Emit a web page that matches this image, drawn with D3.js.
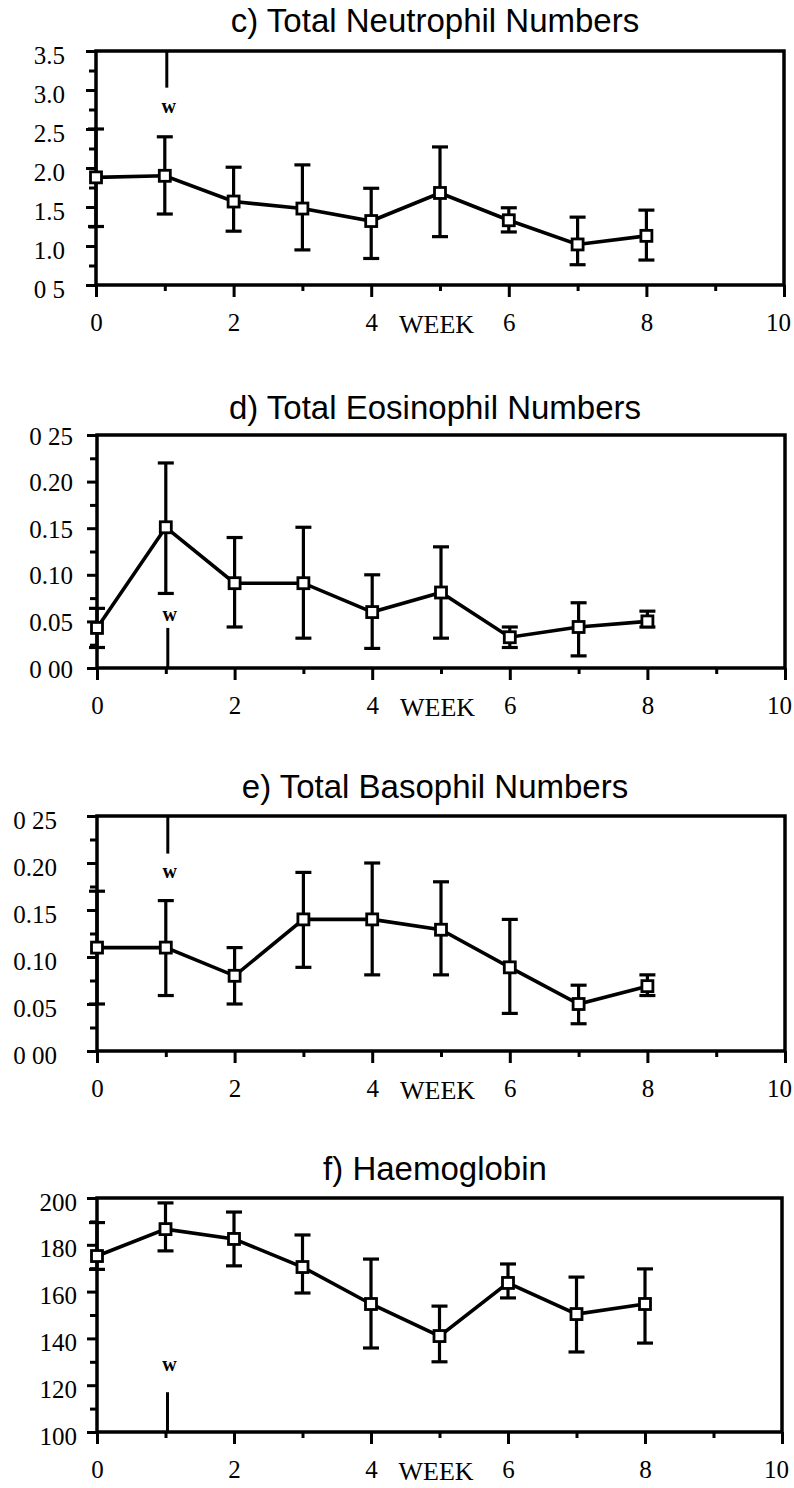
<!DOCTYPE html>
<html>
<head>
<meta charset="utf-8">
<script src="https://cdn.jsdelivr.net/npm/d3@7"></script>
<style>
  body { margin: 0; background: #fff; }
  .tick text { font-family: "Liberation Serif", "DejaVu Serif", serif; font-size: 25px; fill: #000; }
  .title { font-family: "Liberation Sans", Arial, sans-serif; font-size: 33px; fill: #000; }
  .wlabel { font-family: "Liberation Serif", serif; font-weight: bold; font-size: 20px; }
  .xlabel { font-family: "Liberation Serif", serif; font-size: 26px; }
</style>
</head>
<body>
<div id="chart"></div>
<script>
// weeks sampled
const weeks = [0, 1, 2, 3, 4, 5, 6, 7, 8];

// c) neutrophils
const neutroMean = [1.88, 1.90, 1.57, 1.48, 1.32, 1.68, 1.33, 1.02, 1.13];
const neutroLo   = [1.25, 1.41, 1.19, 0.95, 0.84, 1.12, 1.18, 0.76, 0.82];
const neutroHi   = [2.50, 2.40, 2.01, 2.04, 1.74, 2.27, 1.49, 1.37, 1.46];
const neutroTicks = [0.5, 1.0, 1.5, 2.0, 2.5, 3.0, 3.5];
const neutroLabels = ["0 5", "1.0", "1.5", "2.0", "2.5", "3.0", "3.5"];

// d) eosinophils
const eosMean = [0.043, 0.151, 0.091, 0.091, 0.060, 0.081, 0.033, 0.044, 0.050];
const eosLo   = [0.022, 0.080, 0.044, 0.032, 0.021, 0.032, 0.022, 0.013, 0.044];
const eosHi   = [0.064, 0.220, 0.140, 0.151, 0.100, 0.130, 0.044, 0.070, 0.061];

// e) basophils
const basoMean = [0.110, 0.110, 0.080, 0.140, 0.140, 0.129, 0.089, 0.050, 0.069];
const basoLo   = [0.050, 0.059, 0.050, 0.089, 0.081, 0.081, 0.040, 0.029, 0.059];
const basoHi   = [0.170, 0.160, 0.110, 0.190, 0.200, 0.180, 0.140, 0.070, 0.081];

const smallTicks = [0, 0.05, 0.10, 0.15, 0.20, 0.25];
const smallLabels = ["0 00", "0.05", "0.10", "0.15", "0.20", "0 25"];

// f) haemoglobin
const haemMean = [175.2, 186.7, 182.5, 170.5, 154.7, 141.0, 163.7, 150.4, 154.7];
const haemLo   = [169.5, 177.4, 171.0, 159.4, 135.9, 130.0, 157.3, 134.2, 138.0];
const haemHi   = [189.5, 197.9, 194.0, 184.2, 173.9, 153.8, 171.8, 166.2, 169.7];
const haemTicks = [100, 120, 140, 160, 180, 200];
const haemLabels = ["100", "120", "140", "160", "180", "200"];

const xMajor = [0, 2, 4, 6, 8, 10];
const xMinor = [1, 3, 5, 7, 9];

// "w" marker sits at week 1
const wWeek = 1;

const width = 794, height = 1488;

const svg = d3.select("#chart")
  .append("svg")
  .attr("width", width)
  .attr("height", height);

svg.append("rect").attr("width", width).attr("height", height).attr("fill", "#fff");

function panel(p) {
  const x = d3.scaleLinear().domain([0, 10]).range([p.left, p.right]);
  const y = d3.scaleLinear().domain(p.domain).range([p.bottom, p.top]);

  svg.append("text")
    .attr("class", "title")
    .attr("x", 435)
    .attr("y", p.titleY)
    .attr("text-anchor", "middle")
    .text(p.title);

  // frame
  svg.append("rect")
    .attr("x", p.left).attr("y", p.top)
    .attr("width", p.right - p.left).attr("height", p.bottom - p.top)
    .attr("fill", "none").attr("stroke", "#000").attr("stroke-width", 3.5);

  // y axis: major + minor ticks
  const minor = d3.pairs(p.ticks).map(([a, b]) => (a + b) / 2);
  const yAx = svg.append("g")
    .attr("transform", `translate(${p.left},0)`)
    .call(d3.axisLeft(y).tickValues(p.ticks)
      .tickFormat((d, i) => p.labels[i]).tickSize(10).tickPadding(p.pad));
  yAx.selectAll("text").attr("dy", "0.32em").attr("transform", `translate(0,${p.dy})`);
  svg.append("g")
    .attr("transform", `translate(${p.left},0)`)
    .call(d3.axisLeft(y).tickValues(minor).tickFormat("").tickSize(7));

  // x axis
  const xAx = svg.append("g")
    .attr("transform", `translate(0,${p.bottom})`)
    .call(d3.axisBottom(x).tickValues(xMajor).tickSize(12).tickPadding(16));
  // last label sits against the page edge, nudge it in
  xAx.selectAll("text").filter(d => d === 10).attr("dx", -6);
  svg.append("g")
    .attr("transform", `translate(0,${p.bottom})`)
    .call(d3.axisBottom(x).tickValues(xMinor).tickFormat("").tickSize(6));

  svg.selectAll(".domain").remove();
  svg.selectAll(".tick line").attr("stroke", "#000").attr("stroke-width", 3);

  svg.append("text")
    .attr("class", "xlabel")
    .attr("x", x(4.95))
    .attr("y", p.bottom + 48)
    .attr("text-anchor", "middle")
    .text("WEEK");

  // withdrawal marker
  svg.append("line")
    .attr("x1", x(wWeek) + 2).attr("x2", x(wWeek) + 2)
    .attr("y1", y(p.wLine[0])).attr("y2", y(p.wLine[1]))
    .attr("stroke", "#000").attr("stroke-width", 3);
  svg.append("text")
    .attr("class", "wlabel")
    .attr("x", x(wWeek) + 4)
    .attr("y", y(p.wText))
    .attr("dy", "0.3em")
    .attr("text-anchor", "middle")
    .text("w");

  const rows = weeks.map((w, i) => ({ w, m: p.mean[i], lo: p.lo[i], hi: p.hi[i] }));

  // error bars
  const eb = svg.append("g").attr("stroke", "#000").attr("stroke-width", 3.2);
  rows.forEach(d => {
    eb.append("line").attr("x1", x(d.w)).attr("x2", x(d.w)).attr("y1", y(d.lo)).attr("y2", y(d.hi));
    eb.append("line").attr("x1", x(d.w) - 8).attr("x2", x(d.w) + 8).attr("y1", y(d.lo)).attr("y2", y(d.lo));
    eb.append("line").attr("x1", x(d.w) - 8).attr("x2", x(d.w) + 8).attr("y1", y(d.hi)).attr("y2", y(d.hi));
  });

  svg.append("path")
    .datum(rows)
    .attr("fill", "none")
    .attr("stroke", "#000")
    .attr("stroke-width", 3.6)
    .attr("d", d3.line().x(d => x(d.w)).y(d => y(d.m)));

  svg.append("g").selectAll("rect")
    .data(rows)
    .enter()
    .append("rect")
    .attr("x", d => x(d.w) - 5.5)
    .attr("y", d => y(d.m) - 5.5)
    .attr("width", 11).attr("height", 11)
    .attr("fill", "#fff").attr("stroke", "#000").attr("stroke-width", 2.8);
}

panel({ title: "c) Total Neutrophil Numbers", titleY: 32, left: 96, right: 784, top: 51, bottom: 285,
  domain: [0.5, 3.5], ticks: neutroTicks, labels: neutroLabels, pad: 21, dy: 4,
  mean: neutroMean, lo: neutroLo, hi: neutroHi, wLine: [3.5, 3.03], wText: 2.78 });

panel({ title: "d) Total Eosinophil Numbers", titleY: 419, left: 97, right: 785, top: 435, bottom: 668,
  domain: [0, 0.25], ticks: smallTicks, labels: smallLabels, pad: 14, dy: 1,
  mean: eosMean, lo: eosLo, hi: eosHi, wLine: [0, 0.043], wText: 0.057 });

panel({ title: "e) Total Basophil Numbers", titleY: 798, left: 97, right: 785, top: 816, bottom: 1051,
  domain: [0, 0.25], ticks: smallTicks, labels: smallLabels, pad: 30, dy: 4,
  mean: basoMean, lo: basoLo, hi: basoHi, wLine: [0.25, 0.21], wText: 0.19 });

panel({ title: "f) Haemoglobin", titleY: 1180, left: 97, right: 782, top: 1198, bottom: 1432,
  domain: [100, 200], ticks: haemTicks, labels: haemLabels, pad: 10, dy: 4,
  mean: haemMean, lo: haemLo, hi: haemHi, wLine: [100, 117], wText: 128.5 });
</script>
</body>
</html>
